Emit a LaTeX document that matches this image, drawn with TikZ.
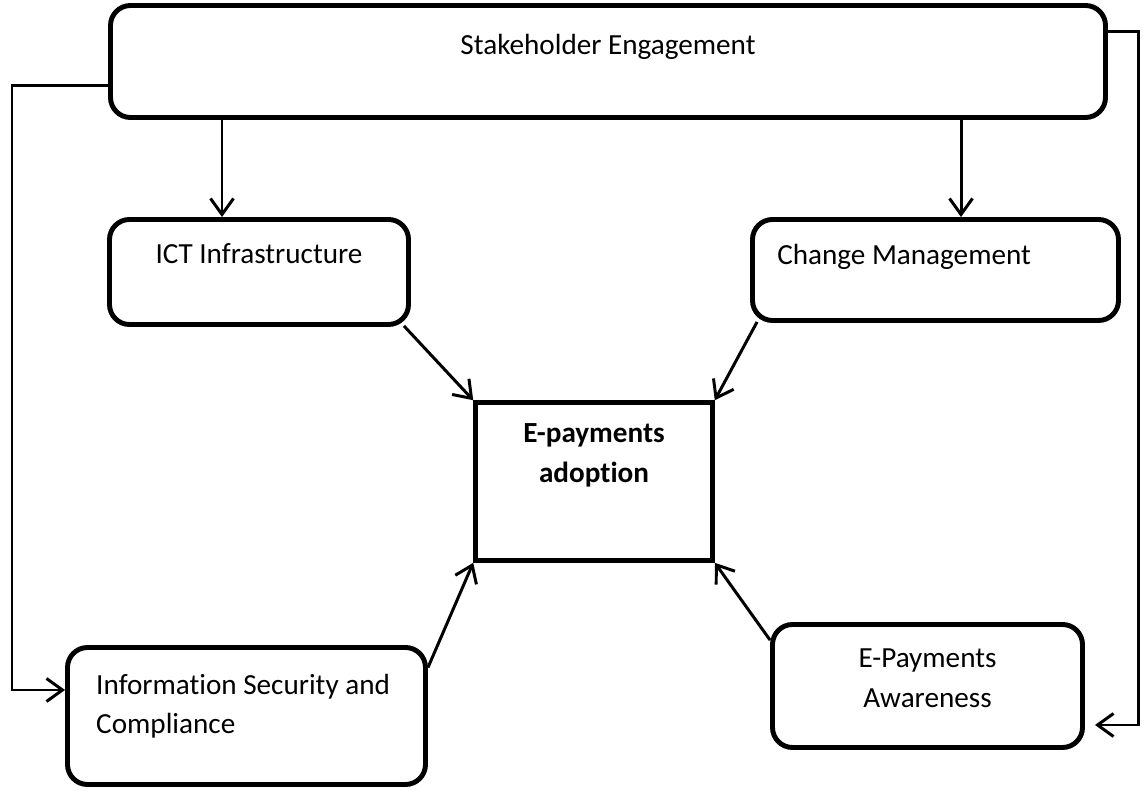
\documentclass[tikz,border=0pt]{standalone}
\usepackage{fontspec}
\setmainfont{Carlito}[Ligatures=CommonOff]
\usetikzlibrary{arrows.meta, positioning}

\tikzset{
  box/.style={draw=black, line width=2.8pt, rounded corners=0.4cm, inner sep=0pt},
  mainbox/.style={draw=black, line width=2.6pt, inner sep=0pt},
  txt/.style={font=\fontsize{16.6}{22.5}\selectfont},
  arr/.style={line width=1.7pt, -{Straight Barb[length=3.2mm, width=4.6mm, line width=1.7pt]}},
}

\begin{document}
\begin{tikzpicture}
\useasboundingbox (0,0) rectangle (22.86,15.82);

% boxes
\node[box, minimum width=19.9cm, minimum height=2.24cm,
  label={[txt, anchor=center, yshift=-0.88cm]north:Stakeholder Engagement}] (stake) at (12.16,14.59) {};
\node[box, minimum width=5.98cm, minimum height=2.1cm,
  label={[txt, anchor=center, yshift=-0.74cm]north:ICT Infrastructure}] (ict) at (5.18,10.38) {};
\node[box, minimum width=7.32cm, minimum height=2.02cm,
  label={[txt, anchor=west, xshift=0.42cm, yshift=-0.8cm]north west:Change Management}] (chg) at (18.71,10.42) {};
\node[mainbox, minimum width=4.74cm, minimum height=3.16cm,
  label={[txt, anchor=center, align=center, yshift=-1.1cm, font=\fontsize{16.6}{22.5}\selectfont\bfseries]north:E-payments\\adoption}] (adopt) at (11.88,6.19) {};
\node[box, minimum width=7.16cm, minimum height=2.74cm,
  label={[txt, anchor=west, align=left, xshift=0.5cm, yshift=-1.22cm]north west:Information Security and\\Compliance}] (sec) at (4.93,1.50) {};
\node[box, minimum width=6.2cm, minimum height=2.46cm,
  label={[txt, anchor=center, align=center, yshift=-1.12cm]north:E-Payments\\Awareness}] (aware) at (18.55,2.10) {};

% helper points
\coordinate (ictTop) at ([xshift=-0.74cm]ict.north);
\coordinate (chgTop) at ([xshift=0.51cm]chg.north);
\coordinate (leftOut) at ([yshift=-0.49cm]stake.west);
\coordinate (leftIn) at ([yshift=0.52cm]sec.west);
\coordinate (rightOut) at ([yshift=0.59cm]stake.east);
\coordinate (rightIn) at ([xshift=0.2cm, yshift=-0.78cm]aware.east);

% connectors
\draw[arr] (stake.south -| ictTop) -- (ictTop);
\draw[arr] (stake.south -| chgTop) -- (chgTop);
\draw[arr] ([xshift=-0.14cm, yshift=0.02cm]ict.south east) -- (adopt.north west);
\draw[arr] ([xshift=0.14cm, yshift=0.02cm]chg.south west) -- (adopt.north east);
\draw[arr] ([yshift=-0.45cm]sec.north east) -- (adopt.south west);
\draw[arr] ([yshift=-0.36cm]aware.north west) -- (adopt.south east);
\draw[arr] (leftOut) -- (0.24,0 |- leftOut) -- (0.24,0 |- leftIn) -- (leftIn);
\draw[arr] (rightOut) -- (22.76,0 |- rightOut) -- (22.76,0 |- rightIn) -- (rightIn);

\end{tikzpicture}
\end{document}
